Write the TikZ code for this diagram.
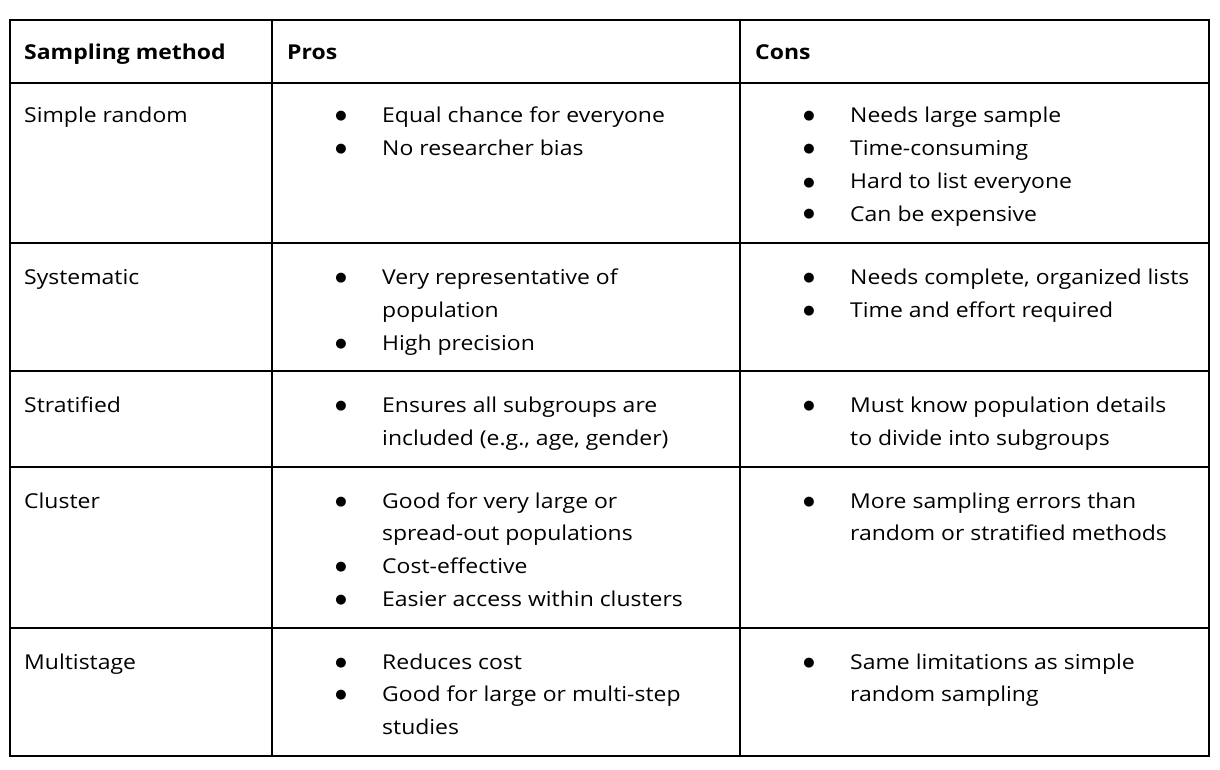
\documentclass[tikz,border=0pt]{standalone}
\usepackage{fontspec}
\setmainfont{Open Sans}[FakeStretch=1.12]
\newfontfamily\dv{DejaVu Sans}
\begin{document}
\begin{tikzpicture}[x=1pt,y=-1pt,
 tx/.style={anchor=base west,inner sep=0,font=\fontsize{20.5}{24}\selectfont},
 hd/.style={tx,font=\fontsize{20.5}{24}\selectfont\bfseries},
 bl/.style={anchor=base,inner sep=0,font=\dv\fontsize{13}{15}\selectfont},
 grid/.style={line width=1.2pt}]
\useasboundingbox (0,0) rectangle (1220,770);
\draw[grid] (10,20) rectangle (1209,756);
\foreach \y in {83,243,371,467,628} \draw[grid] (10,\y) -- (1209,\y);
\foreach \x in {272,740} \draw[grid] (\x,20) -- (\x,756);
\node[hd] (h1) at (24,60) {Sampling method};
\node[hd] (h2) at (287,60) {Pros};
\node[hd] (h3) at (755,60) {Cons};
\newcommand\rowlab[3]{\node[tx] (#1) at (24,#2+8) {#3};}
\newcommand\pro[3]{\node[bl] (#1b) at (341,#2+5) {●};\node[tx] (#1) at (382,#2+8) {#3};}
\newcommand\pcont[3]{\node[tx] (#1) at (382,#2+8) {#3};}
\newcommand\con[3]{\node[bl] (#1b) at (809,#2+5) {●};\node[tx] (#1) at (850,#2+8) {#3};}
\newcommand\ccont[3]{\node[tx] (#1) at (850,#2+8) {#3};}
\rowlab{r1}{115}{Simple random}
\pro{p11}{115}{Equal chance for everyone}
\pro{p12}{148}{No researcher bias}
\con{c11}{115}{Needs large sample}
\con{c12}{148}{Time-consuming}
\con{c13}{181}{Hard to list everyone}
\con{c14}{213}{Can be expensive}
\rowlab{r2}{276}{Systematic}
\pro{p21}{276}{Very representative of}
\pcont{p22}{309}{population}
\pro{p23}{342}{High precision}
\con{c21}{276}{Needs complete, organized lists}
\con{c22}{309}{Time and effort required}
\rowlab{r3}{404}{Stratified}
\pro{p31}{404}{Ensures all subgroups are}
\pcont{p32}{437}{included (e.g., age, gender)}
\con{c31}{404}{Must know population details}
\ccont{c32}{437}{to divide into subgroups}
\rowlab{r4}{500}{Cluster}
\pro{p41}{500}{Good for very large or}
\pcont{p42}{532}{spread-out populations}
\pro{p43}{565}{Cost-effective}
\pro{p44}{598}{Easier access within clusters}
\con{c41}{500}{More sampling errors than}
\ccont{c42}{532}{random or stratified methods}
\rowlab{r5}{661}{Multistage}
\pro{p51}{661}{Reduces cost}
\pro{p52}{693}{Good for large or multi-step}
\pcont{p53}{726}{studies}
\con{c51}{661}{Same limitations as simple}
\ccont{c52}{693}{random sampling}
\end{tikzpicture}
\end{document}
